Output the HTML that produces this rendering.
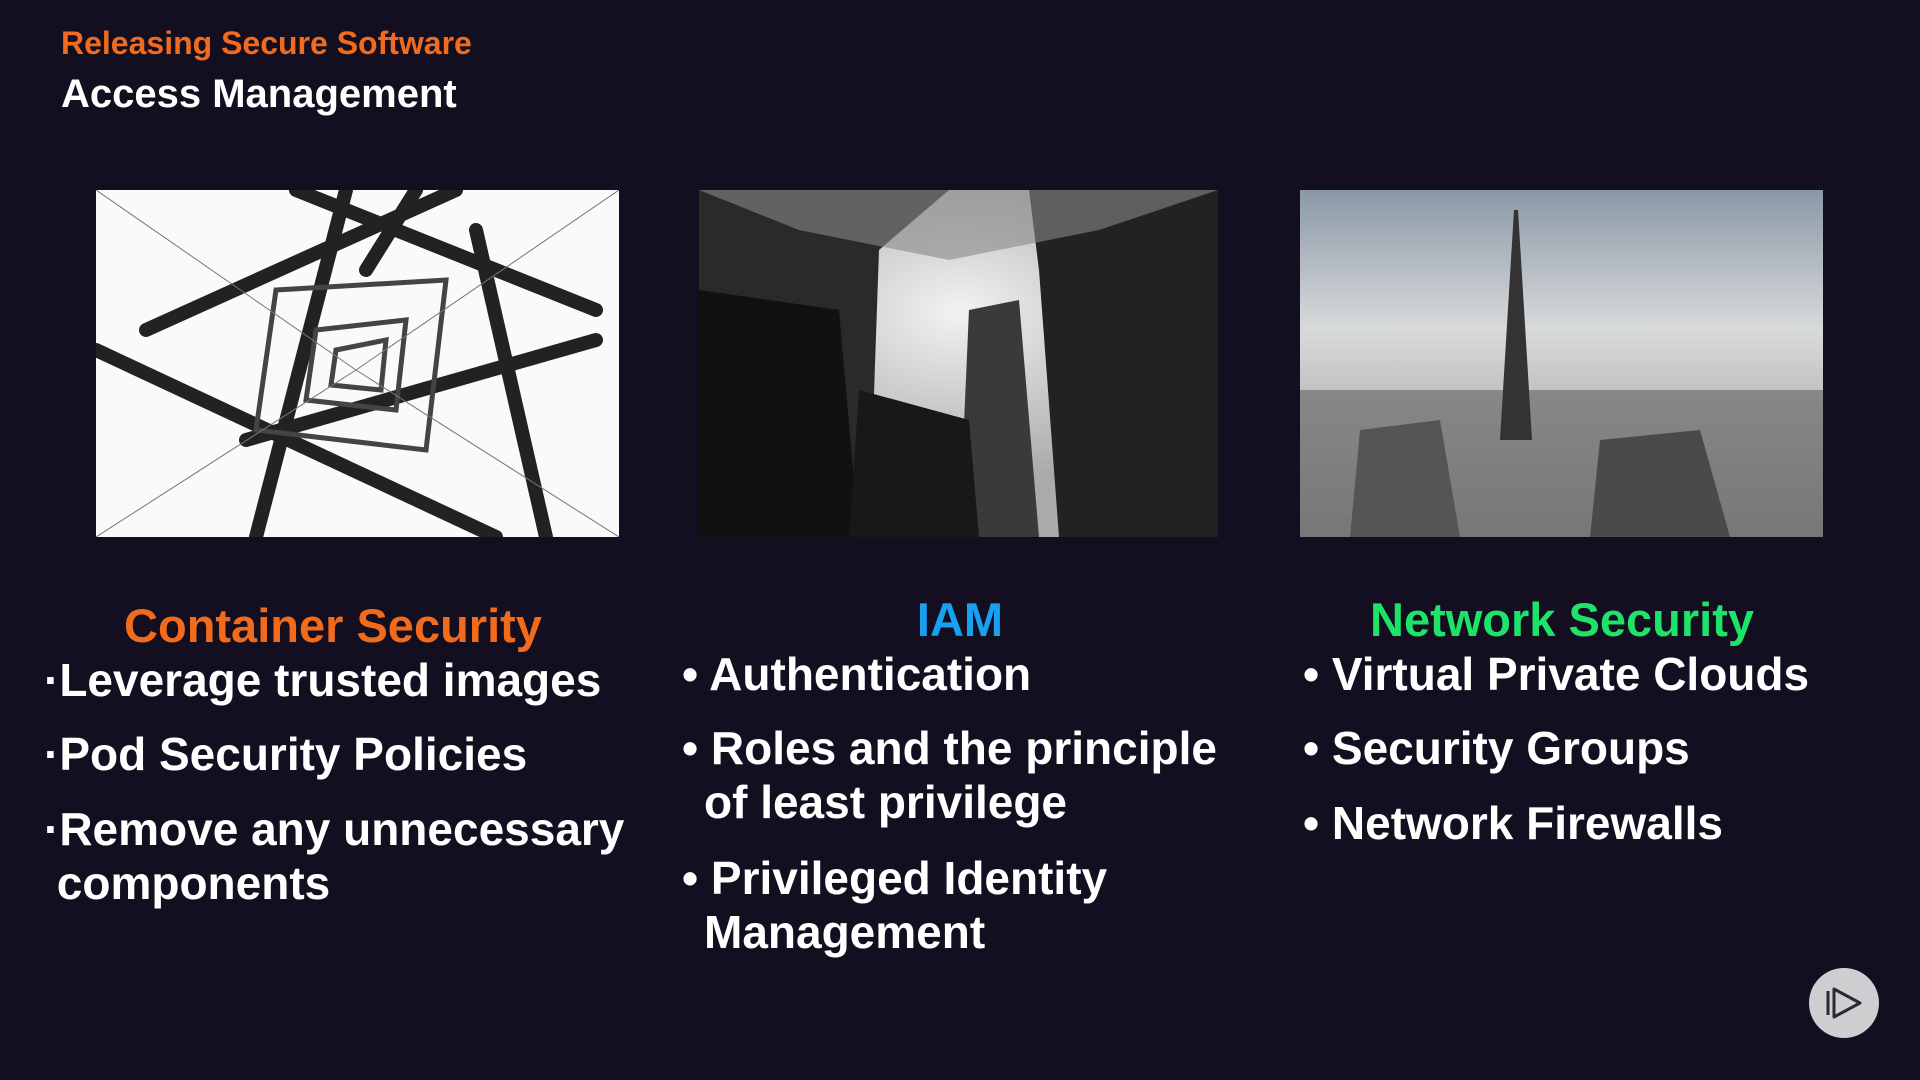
<!DOCTYPE html>
<html><head><meta charset="utf-8"><style>
html,body{margin:0;padding:0;}
body{width:1920px;height:1080px;background:#130f20;position:relative;overflow:hidden;font-family:"Liberation Sans",sans-serif;color:#fff;font-weight:bold;}
.a{position:absolute;white-space:nowrap;}
.b{font-size:46px;line-height:54px;}
.h{font-size:47px;text-align:center;}
.c2{position:absolute;left:22px;}
</style></head><body>
<div class="a" style="left:61px;top:25px;font-size:32px;color:#f26b1d;">Releasing Secure Software</div>
<div class="a" style="left:61px;top:72px;font-size:40px;">Access Management</div>

<svg class="a" style="left:96px;top:190px" width="523" height="347" viewBox="0 0 523 347">
<rect width="523" height="347" fill="#fafafa"/>
<g stroke="#222" stroke-width="14" stroke-linecap="round">
<line x1="0" y1="160" x2="400" y2="347"/><line x1="50" y1="140" x2="360" y2="0"/>
<line x1="200" y1="0" x2="500" y2="120"/><line x1="380" y1="40" x2="450" y2="347"/>
<line x1="160" y1="347" x2="250" y2="0"/><line x1="150" y1="250" x2="500" y2="150"/>
<line x1="320" y1="0" x2="270" y2="80"/>
</g>
<g stroke="#444" stroke-width="5" fill="none">
<polygon points="180,100 350,90 330,260 160,240"/><polygon points="220,140 310,130 300,220 210,210"/>
<polygon points="240,160 290,150 285,200 235,195"/>
</g>
<g stroke="#777" stroke-width="1"><line x1="0" y1="0" x2="260" y2="180"/><line x1="523" y1="0" x2="260" y2="180"/><line x1="0" y1="347" x2="260" y2="180"/><line x1="523" y1="347" x2="260" y2="180"/></g>
</svg>

<svg class="a" style="left:699px;top:190px" width="519" height="347" viewBox="0 0 519 347">
<defs><radialGradient id="s" cx="0.5" cy="0.35" r="0.5"><stop offset="0" stop-color="#f2f2f2"/><stop offset="1" stop-color="#aaa"/></radialGradient></defs>
<rect width="519" height="347" fill="url(#s)"/>
<polygon points="330,0 519,0 519,347 360,347 340,80" fill="#222"/>
<polygon points="0,0 250,0 180,60 170,347 0,347" fill="#2a2a2a"/>
<polygon points="0,100 140,120 160,347 0,347" fill="#111"/>
<polygon points="270,120 320,110 340,347 260,347" fill="#3a3a3a"/>
<polygon points="160,200 270,230 280,347 150,347" fill="#181818"/>
<polygon points="0,0 519,0 400,40 250,70 100,40" fill="#888" opacity="0.6"/>
</svg>

<svg class="a" style="left:1300px;top:190px" width="523" height="347" viewBox="0 0 523 347">
<defs><linearGradient id="k" x1="0" y1="0" x2="0" y2="1"><stop offset="0" stop-color="#8a98a6"/><stop offset="0.4" stop-color="#d8dadb"/><stop offset="1" stop-color="#8e8e8e"/></linearGradient></defs>
<rect width="523" height="347" fill="url(#k)"/>
<rect y="200" width="523" height="147" fill="#6d6d6d" opacity="0.7"/>
<polygon points="214,20 218,20 232,250 200,250" fill="#333"/>
<polygon points="60,240 140,230 160,347 50,347" fill="#555"/>
<polygon points="300,250 400,240 430,347 290,347" fill="#4a4a4a"/>
</svg>

<div class="a h" style="left:83px;width:500px;top:598px;color:#f26b1d;">Container Security</div>
<div class="a h" style="left:760px;width:400px;top:592px;color:#1aa0f0;">IAM</div>
<div class="a h" style="left:1312px;width:500px;top:592px;color:#1ee36a;">Network Security</div>

<div class="a b" style="left:44px;top:653px;">·Leverage trusted images</div>
<div class="a b" style="left:44px;top:727px;">·Pod Security Policies</div>
<div class="a b" style="left:44px;top:802px;">·Remove any unnecessary<br>&nbsp;components</div>

<div class="a b" style="left:682px;top:647px;">• Authentication</div>
<div class="a b" style="left:682px;top:721px;">• Roles and the principle<br><span style="margin-left:22px">of least privilege</span></div>
<div class="a b" style="left:682px;top:851px;">• Privileged Identity<br><span style="margin-left:22px">Management</span></div>

<div class="a b" style="left:1303px;top:647px;">• Virtual Private Clouds</div>
<div class="a b" style="left:1303px;top:721px;">• Security Groups</div>
<div class="a b" style="left:1303px;top:796px;">• Network Firewalls</div>

<svg class="a" style="left:1808px;top:967px" width="72" height="72" viewBox="0 0 72 72">
<circle cx="36" cy="36" r="35" fill="#cfcfd2"/>
<polygon points="26,22 52,36 26,50" fill="none" stroke="#2a2a35" stroke-width="3" stroke-linejoin="round"/>
<line x1="20" y1="24" x2="20" y2="48" stroke="#2a2a35" stroke-width="3"/>
</svg>
</body></html>
